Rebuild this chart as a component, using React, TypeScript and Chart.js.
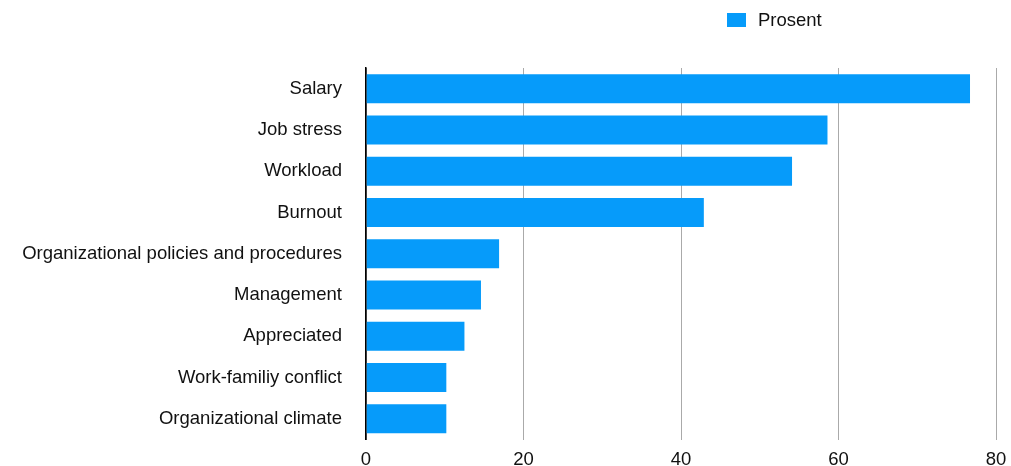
import React, { useEffect, useRef } from "react";
import { Chart, registerables } from "chart.js";

Chart.register(...registerables);

const categories = [
  "Salary",
  "Job stress",
  "Workload",
  "Burnout",
  "Organizational policies and procedures",
  "Management",
  "Appreciated",
  "Work-familiy conflict",
  "Organizational climate",
];
const seriesName = "Prosent";
const values = [76.7, 58.6, 54.1, 42.9, 16.9, 14.6, 12.5, 10.2, 10.2];
const xTicks = [0, 20, 40, 60, 80];

const BAR_COLOR = "#069BFA";
const FONT = "'Liberation Sans', Arial, Helvetica, sans-serif";
const FONT_SIZE = 18.5;

const legendPlugin = {
  id: "customLegend",
  afterDraw(chart: any) {
    const ctx = chart.ctx;
    ctx.save();
    ctx.fillStyle = BAR_COLOR;
    ctx.fillRect(727, 13, 19, 14);
    ctx.fillStyle = "#111111";
    ctx.font = `${FONT_SIZE}px ${FONT}`;
    ctx.textBaseline = "middle";
    ctx.textAlign = "left";
    ctx.fillText(seriesName, 758, 20.5);
    ctx.restore();
  },
};

export default function App() {
  const ref = useRef<HTMLCanvasElement>(null);
  useEffect(() => {
    if (!ref.current) return;
    const chart = new Chart(ref.current, {
      type: "bar",
      data: {
        labels: categories,
        datasets: [
          {
            label: seriesName,
            data: values,
            backgroundColor: BAR_COLOR,
            borderWidth: 0,
            barPercentage: 0.703,
            categoryPercentage: 1.0,
          },
        ],
      },
      options: {
        indexAxis: "y",
        responsive: false,
        animation: false,
        layout: { padding: { top: 68, right: 15, left: 0, bottom: 0 } },
        plugins: {
          legend: { display: false },
          tooltip: { enabled: false },
        },
        scales: {
          x: {
            min: 0,
            max: 80,
            afterBuildTicks: (s: any) => {
              s.ticks = xTicks.map((v) => ({ value: v }));
            },
            afterFit: (s: any) => {
              s.height = 26.5;
              s.paddingLeft = 0;
              s.paddingRight = 0;
              s.paddingTop = 0;
              s.paddingBottom = 0;
            },
            grid: {
              drawTicks: false,
              color: (c: any) => (c.tick && c.tick.value === 0 ? "#000000" : "#aaaaaa"),
              lineWidth: (c: any) => (c.tick && c.tick.value === 0 ? 1.5 : 1),
            },
            border: { display: false },
            ticks: {
              padding: 9,
              color: "#111111",
              font: { family: FONT, size: FONT_SIZE },
            },
          },
          y: {
            afterFit: (s: any) => {
              s.width = 366;
              s.paddingLeft = 0;
              s.paddingRight = 0;
              s.paddingTop = 0;
              s.paddingBottom = 0;
            },
            grid: { display: false, drawTicks: false },
            border: { display: true, color: "#000000", width: 1.5 },
            ticks: {
              padding: 24,
              color: "#111111",
              font: { family: FONT, size: FONT_SIZE },
            },
          },
        },
      },
      plugins: [legendPlugin],
    });
    return () => chart.destroy();
  }, []);
  return (
    <div style={{ position: "fixed", left: 0, top: 0, width: 1011, height: 466, background: "#fff" }}>
      <canvas ref={ref} width={1011} height={466} style={{ display: "block" }} />
    </div>
  );
}
